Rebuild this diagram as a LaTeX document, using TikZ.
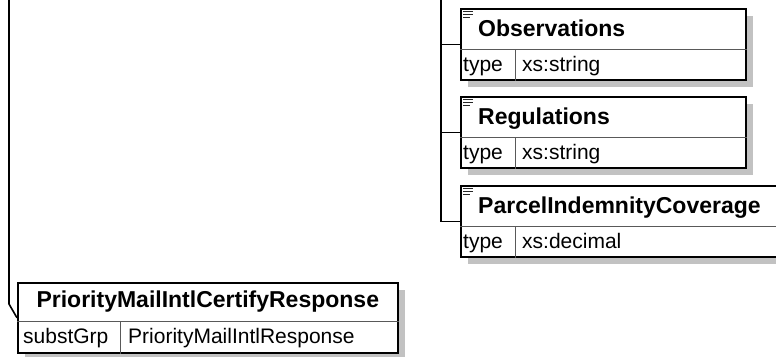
\documentclass[tikz,border=0pt]{standalone}
\usepackage{fontspec}
\setmainfont{Liberation Sans}
\begin{document}
\begin{tikzpicture}[x=1pt,y=-1pt,
  box/.style={draw=black, line width=1.6pt, fill=white, rectangle, inner sep=0pt, anchor=north west},
  shade/.style={fill=black!24, draw=none},
  divider/.style={draw=black!65, line width=0.9pt},
  conn/.style={draw=black, line width=1.6pt},
  icon/.style={draw=black!85, line width=1.4pt},
  title/.style={font=\fontsize{23}{26}\selectfont\bfseries, inner sep=0pt, anchor=base west},
  ctitle/.style={font=\fontsize{23}{26}\selectfont\bfseries, inner sep=0pt, anchor=base},
  cell/.style={font=\fontsize{21}{24}\selectfont, inner sep=0pt, anchor=base west},
]
\useasboundingbox (0,0) rectangle (776,356);
\clip (0,0) rectangle (776,356);
\fill[white] (0,0) rectangle (776,356);

% shadows
\fill[shade] (468,16) rectangle (753,87);
\fill[shade] (468,104) rectangle (753,175);
\fill[shade] (468,193) rectangle (798,264);
\fill[shade] (25,290) rectangle (405,360);

% Observations
\node[box, minimum width=285pt, minimum height=71pt] (obs) at (460,8) {};
\draw[divider] ([yshift=-41pt]obs.north west) -- ([yshift=-41pt]obs.north east);
\draw[divider] ([xshift=55pt,yshift=-41pt]obs.north west) -- ([xshift=55pt]obs.south west);
\draw[icon] ([xshift=3pt,yshift=-3.5pt]obs.north west) -- ++(10,0);
\draw[icon] ([xshift=3pt,yshift=-6.5pt]obs.north west) -- ++(10,0);
\draw[icon] ([xshift=3pt,yshift=-9.5pt]obs.north west) -- ++(7,0);
\node[title] (obsT) at ([xshift=18pt,yshift=-28pt]obs.north west) {Observations};
\node[cell] (obsK) at ([xshift=3pt,yshift=-63pt]obs.north west) {type};
\node[cell] (obsV) at ([xshift=62pt,yshift=-63pt]obs.north west) {xs:string};

% Regulations
\node[box, minimum width=285pt, minimum height=71pt] (reg) at (460,96) {};
\draw[divider] ([yshift=-41pt]reg.north west) -- ([yshift=-41pt]reg.north east);
\draw[divider] ([xshift=55pt,yshift=-41pt]reg.north west) -- ([xshift=55pt]reg.south west);
\draw[icon] ([xshift=3pt,yshift=-3.5pt]reg.north west) -- ++(10,0);
\draw[icon] ([xshift=3pt,yshift=-6.5pt]reg.north west) -- ++(10,0);
\draw[icon] ([xshift=3pt,yshift=-9.5pt]reg.north west) -- ++(7,0);
\node[title] (regT) at ([xshift=18pt,yshift=-28pt]reg.north west) {Regulations};
\node[cell] (regK) at ([xshift=3pt,yshift=-63pt]reg.north west) {type};
\node[cell] (regV) at ([xshift=62pt,yshift=-63pt]reg.north west) {xs:string};

% ParcelIndemnityCoverage
\node[box, minimum width=330pt, minimum height=71pt] (par) at (460,185) {};
\draw[divider] ([yshift=-41pt]par.north west) -- ([yshift=-41pt]par.north east);
\draw[divider] ([xshift=55pt,yshift=-41pt]par.north west) -- ([xshift=55pt]par.south west);
\draw[icon] ([xshift=3pt,yshift=-3.5pt]par.north west) -- ++(10,0);
\draw[icon] ([xshift=3pt,yshift=-6.5pt]par.north west) -- ++(10,0);
\draw[icon] ([xshift=3pt,yshift=-9.5pt]par.north west) -- ++(7,0);
\node[title] (parT) at ([xshift=18pt,yshift=-28pt]par.north west) {ParcelIndemnityCoverage};
\node[cell] (parK) at ([xshift=3pt,yshift=-63pt]par.north west) {type};
\node[cell] (parV) at ([xshift=62pt,yshift=-63pt]par.north west) {xs:decimal};

% PriorityMailIntlCertifyResponse
\node[box, minimum width=380pt, minimum height=70pt] (main) at (17,282) {};
\draw[divider] ([yshift=-39pt]main.north west) -- ([yshift=-39pt]main.north east);
\draw[divider] ([xshift=103pt,yshift=-39pt]main.north west) -- ([xshift=103pt]main.south west);
\node[ctitle] (mainT) at ([yshift=-25pt]main.north) {PriorityMailIntlCertifyResponse};
\node[cell] (mainK) at ([xshift=6pt,yshift=-61pt]main.north west) {substGrp};
\node[cell] (mainV) at ([xshift=111pt,yshift=-61pt]main.north west) {PriorityMailIntlResponse};

% connectors
\coordinate (topR) at (441,0);
\draw[conn] (topR) |- (par.west);
\draw[conn] (obs.west) -- (obs.west -| topR);
\draw[conn] (reg.west) -- (reg.west -| topR);
\coordinate (topL) at (9,0);
\coordinate (bendL) at (9,304);
\draw[conn] (topL) -- (bendL) -- (main.west);
\end{tikzpicture}
\end{document}
